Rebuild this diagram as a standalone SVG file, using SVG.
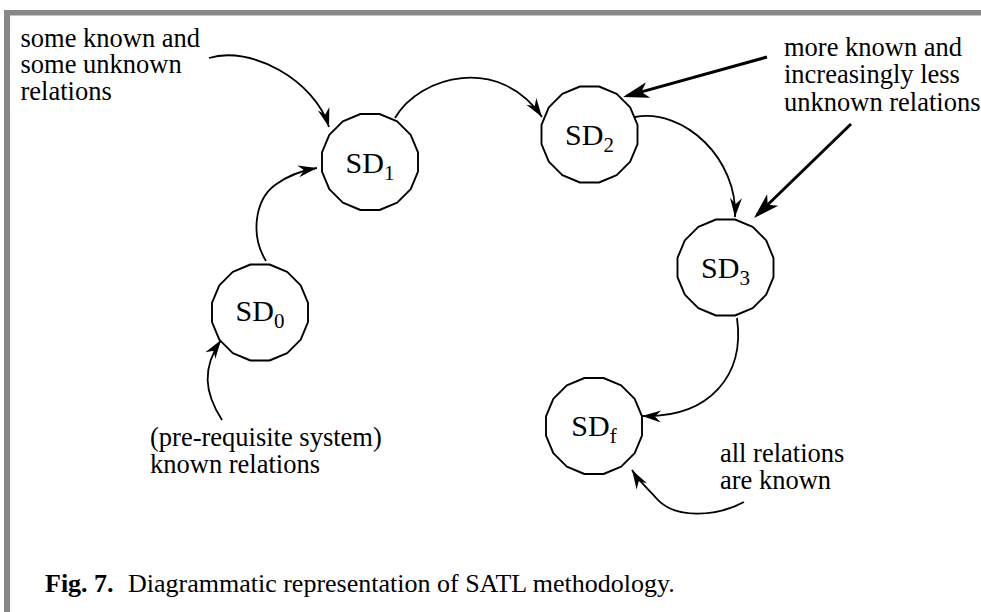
<svg xmlns="http://www.w3.org/2000/svg" xmlns:xlink="http://www.w3.org/1999/xlink" width="981" height="612" viewBox="0 0 981 612">
<style>
  text { font-family: "Liberation Serif", "Times New Roman", serif; fill: #000; }
  .lbl { font-size: 26.5px; }
  .nd { font-size: 30px; }
  .sub { font-size: 21px; }
  .cap { font-size: 26px; }
  .node { fill: #fff; stroke: #000; stroke-width: 1.9; stroke-linejoin: round; }
  .c { fill: none; stroke: #000; stroke-width: 1.8; marker-end: url(#ah); }
  .t { fill: none; stroke: #000; stroke-width: 3; marker-end: url(#ahb); }
</style>
<defs>
  <polygon id="poly" points="48,9.55 40.69,27.19 27.19,40.69 9.55,48 -9.55,48 -27.19,40.69 -40.69,27.19 -48,9.55 -48,-9.55 -40.69,-27.19 -27.19,-40.69 -9.55,-48 9.55,-48 27.19,-40.69 40.69,-27.19 48,-9.55"/>
  <marker id="ah" viewBox="-21 -8 23 16" refX="0" refY="0" markerWidth="23" markerHeight="16" markerUnits="userSpaceOnUse" orient="auto">
    <path d="M0,0 L-19,-6 L-13,0 L-19,6 Z" fill="#000"/>
  </marker>
  <marker id="ahb" viewBox="-26 -10 32 20" refX="0" refY="0" markerWidth="32" markerHeight="20" markerUnits="userSpaceOnUse" orient="auto">
    <path d="M4,0 L-22,-8 L-15,0 L-22,8 Z" fill="#000"/>
  </marker>
</defs>
<rect width="981" height="612" fill="#fff"/>
<g id="frame" fill="#888">
  <rect x="4" y="10" width="977" height="5.5"/>
  <rect x="4" y="10" width="6" height="602"/>
</g>
<g id="connectors">
  <path class="c" d="M209,58 C250,45 315,80 329,127"/>
  <path class="c" d="M266,261 C250,235 255,200 275,185 C287,176 300,171 317,168"/>
  <path class="c" d="M222,420 C204,392 202,368 221,340"/>
  <path class="c" d="M395,118 C420,75 500,55 542,117"/>
  <path class="c" d="M635,117 C685,108 738,160 735,217"/>
  <path class="c" d="M737,318 C745,375 710,418 642,416"/>
  <path class="c" d="M744,502 C718,516 676,520 657,499 C648,489 638,480 632,470"/>
  <path class="t" d="M767,57 L626.9,95.9"/>
  <path class="t" d="M851,124 L756.9,215.2"/>
</g>
<g id="SD0">
  <use xlink:href="#poly" href="#poly" class="node" x="260" y="312.5"/>
  <text class="nd" x="260" y="321" text-anchor="middle">SD<tspan class="sub" dy="7">0</tspan></text>
</g>
<g id="SD1">
  <use xlink:href="#poly" href="#poly" class="node" x="370" y="162"/>
  <text class="nd" x="370" y="172.5" text-anchor="middle">SD<tspan class="sub" dy="7">1</tspan></text>
</g>
<g id="SD2">
  <use xlink:href="#poly" href="#poly" class="node" x="589.5" y="134.5"/>
  <text class="nd" x="589.5" y="145" text-anchor="middle">SD<tspan class="sub" dy="7">2</tspan></text>
</g>
<g id="SD3">
  <use xlink:href="#poly" href="#poly" class="node" x="725.5" y="267.5"/>
  <text class="nd" x="725.5" y="278" text-anchor="middle">SD<tspan class="sub" dy="7">3</tspan></text>
</g>
<g id="SDf">
  <use xlink:href="#poly" href="#poly" class="node" x="594" y="426"/>
  <text class="nd" x="594" y="436" text-anchor="middle">SD<tspan class="sub" dy="7">f</tspan></text>
</g>
<g id="label-some">
  <text class="lbl" x="20.5" y="46.5">some known and</text>
  <text class="lbl" x="20.5" y="73">some unknown</text>
  <text class="lbl" x="20.5" y="99.5">relations</text>
</g>
<g id="label-more">
  <text class="lbl" x="784" y="55.5">more known and</text>
  <text class="lbl" x="784" y="83">increasingly less</text>
  <text class="lbl" x="784" y="110.5">unknown relations</text>
</g>
<g id="label-prereq">
  <text class="lbl" x="150" y="446">(pre-requisite system)</text>
  <text class="lbl" x="150" y="473">known relations</text>
</g>
<g id="label-all">
  <text class="lbl" x="720" y="461.5">all relations</text>
  <text class="lbl" x="720" y="489">are known</text>
</g>
<g id="caption">
  <text class="cap" x="45" y="592"><tspan font-weight="bold">Fig. 7.</tspan><tspan x="128">Diagrammatic representation of SATL methodology.</tspan></text>
</g>
</svg>
